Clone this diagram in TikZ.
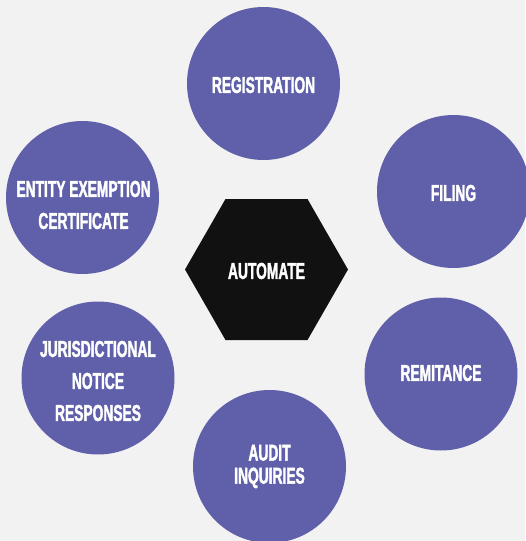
\documentclass[tikz,border=0pt]{standalone}
\usepackage{fontspec}
\newfontfamily\condfont[FakeStretch=0.6,FakeBold=1.6]{Liberation Sans}
\definecolor{bg}{HTML}{F2F2F2}
\definecolor{purp}{HTML}{5F60A9}
\definecolor{hexblk}{HTML}{111111}
\begin{document}
\begin{tikzpicture}[x=1pt,y=-1pt,
  circ/.style={circle,fill=purp,minimum size=153pt,inner sep=0pt},
  lbl/.style={text=white,align=center,inner sep=0pt,
    font=\condfont\bfseries\fontsize{23}{32}\selectfont}]
\fill[bg] (0,0) rectangle (525,541);
\useasboundingbox (0,0) rectangle (525,541);
\fill[hexblk] (185,269.5) -- (225.5,199) -- (307.5,199) -- (348,269.5) -- (307.5,340) -- (225.5,340) -- cycle;
\node[lbl] (hex) at (266.5,271) {AUTOMATE};
\node[circ] (reg) at (263.5,83.5) {};
\node[circ] (fil) at (453.5,191.5) {};
\node[circ] (rem) at (441,374) {};
\node[circ] (aud) at (269.5,466.5) {};
\node[circ] (jur) at (98,378) {};
\node[circ] (ent) at (82.5,197.5) {};
\node[lbl] (regt) at (263.5,85) {REGISTRATION};
\node[lbl] (filt) at (453.5,193) {FILING};
\node[lbl] (remt) at (441,373) {REMITANCE};
\node[lbl,font=\condfont\bfseries\fontsize{23}{23}\selectfont] (audt) at (269.5,466.5) {AUDIT\\INQUIRIES};
\node[lbl] (jurt) at (98,381) {JURISDICTIONAL\\NOTICE\\RESPONSES};
\node[lbl] (entt) at (83.5,205) {ENTITY EXEMPTION\\CERTIFICATE};
\end{tikzpicture}
\end{document}
